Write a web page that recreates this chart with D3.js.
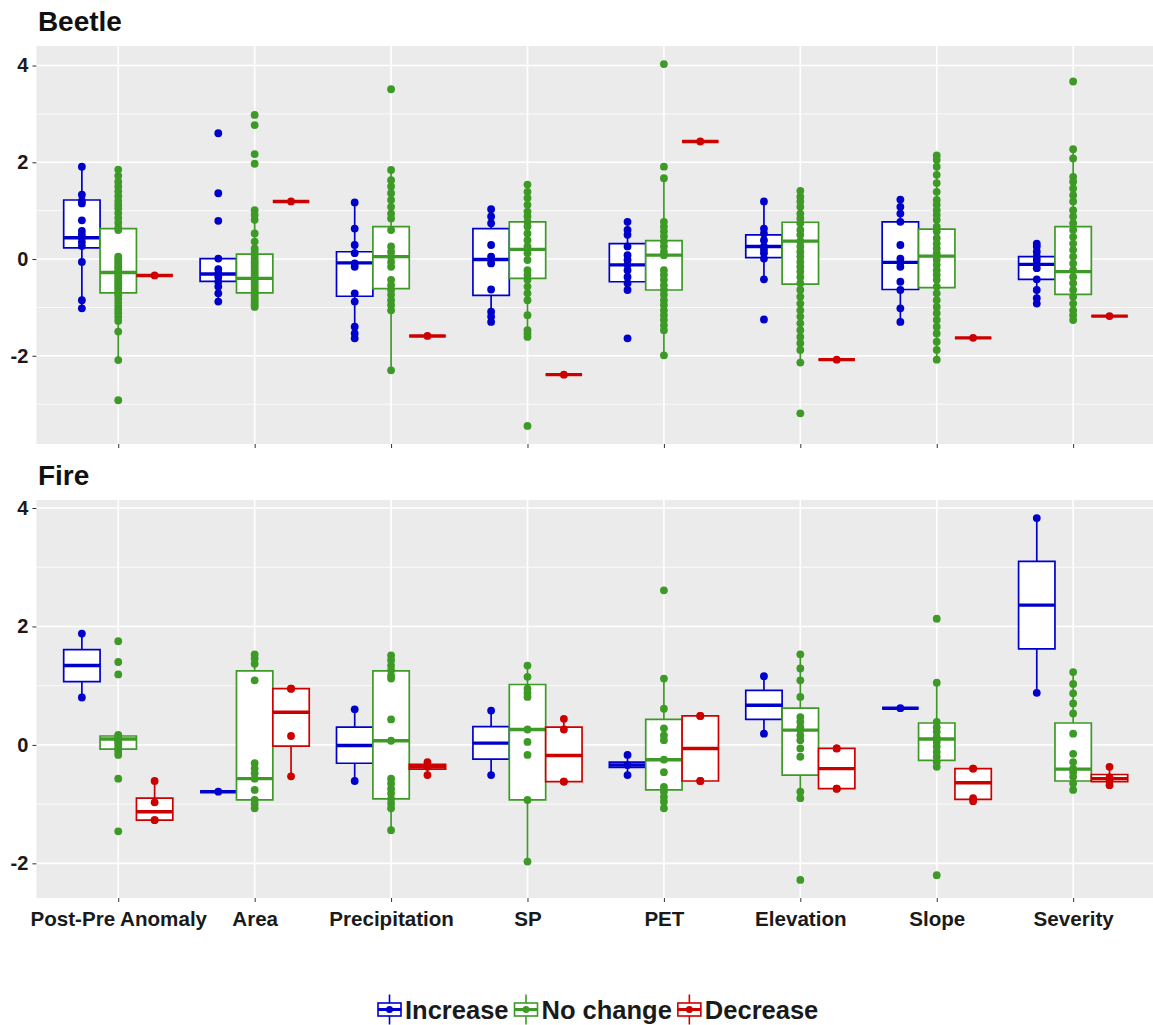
<!DOCTYPE html>
<html>
<head>
<meta charset="utf-8">
<script src="https://cdn.jsdelivr.net/npm/d3@7"></script>
<style>
  body { margin: 0; background: #ffffff; }
  text { font-family: "Liberation Sans", Arial, sans-serif; font-weight: bold; }
</style>
</head>
<body>
<svg id="chart" width="1153" height="1025"></svg>
<script>
// ---- data -------------------------------------------------------------
const categories = ["Post-Pre Anomaly", "Area", "Precipitation", "SP", "PET", "Elevation", "Slope", "Severity"];
const groups = ["Increase", "No change", "Decrease"];
const panelTitles = ["Beetle", "Fire"];

// box summaries per category: [lower whisker, Q1, median, Q3, upper whisker]
const beetleIncreaseBox = [
  [-1.02, 0.23, 0.44, 1.22, 1.91], [-0.88, -0.46, -0.31, 0.01, 0.01], [-1.64, -0.77, -0.08, 0.15, 1.17],
  [-1.30, -0.75, -0.01, 0.63, 1.03], [-0.64, -0.47, -0.12, 0.32, 0.77], [-0.42, 0.03, 0.26, 0.50, 1.19],
  [-1.30, -0.63, -0.07, 0.77, 1.23], [-0.92, -0.42, -0.11, 0.05, 0.32]
];
const beetleIncreasePts = [
  [1.91, 1.33, 1.2, 1.15, 0.8, 0.58, 0.5, 0.44, 0.35, 0.27, -0.06, -0.85, -1.02],
  [2.6, 1.36, 0.79, 0.01, -0.21, -0.3, -0.37, -0.47, -0.57, -0.71, -0.88],
  [1.17, 0.63, 0.29, 0.12, -0.09, -0.16, -0.71, -0.88, -1.4, -1.54, -1.64],
  [1.03, 0.88, 0.74, 0.29, 0.05, -0.02, -0.09, -0.63, -1.09, -1.19, -1.3],
  [0.77, 0.6, 0.5, 0.26, 0.08, -0.02, -0.12, -0.23, -0.37, -0.5, -0.64, -1.64],
  [1.19, 0.63, 0.53, 0.39, 0.26, 0.19, 0.12, 0.01, -0.42, -1.25],
  [1.23, 1.08, 0.94, 0.77, 0.29, 0.01, -0.07, -0.16, -0.47, -0.64, -1.02, -1.3],
  [0.32, 0.26, 0.15, 0.05, -0.02, -0.11, -0.19, -0.42, -0.64, -0.81, -0.92]
];
const beetleNoChangeBox = [
  [-2.09, -0.70, -0.28, 0.63, 1.85], [-0.99, -0.70, -0.40, 0.10, 1.01], [-2.30, -0.61, 0.05, 0.67, 1.84],
  [-1.61, -0.40, 0.20, 0.77, 1.54], [-1.99, -0.64, 0.08, 0.38, 1.67], [-2.14, -0.52, 0.37, 0.76, 1.41],
  [-2.08, -0.59, 0.06, 0.62, 2.14], [-1.26, -0.73, -0.26, 0.67, 2.27]
];
const beetleNoChangePts = [
  [1.85, 1.72, 1.6, 1.5, 1.4, 1.3, 1.2, 1.12, 1.05, 0.95, 0.85, 0.75, 0.65, 0.6, 0.05, 0.0, -0.05, -0.1, -0.15, -0.2, -0.25, -0.3, -0.35, -0.4, -0.45, -0.5, -0.55, -0.6, -0.65, -0.7, -0.75, -0.82, -0.9, -0.98, -1.05, -1.12, -1.2, -1.28, -1.5, -2.09, -2.92],
  [2.98, 2.77, 2.17, 1.97, 1.01, 0.91, 0.81, 0.53, 0.36, 0.22, 0.15, 0.08, 0.01, -0.05, -0.1, -0.15, -0.2, -0.25, -0.3, -0.35, -0.4, -0.45, -0.5, -0.55, -0.6, -0.65, -0.7, -0.75, -0.8, -0.85, -0.9, -0.95, -0.99],
  [3.51, 1.84, 1.63, 1.5, 1.36, 1.22, 1.08, 0.94, 0.84, 0.6, 0.26, 0.15, 0.05, -0.06, -0.16, -0.43, -0.54, -0.64, -0.74, -0.85, -0.95, -1.06, -2.3],
  [1.54, 1.39, 1.26, 1.12, 0.98, 0.88, 0.77, 0.67, 0.53, 0.39, 0.26, 0.2, 0.12, -0.02, -0.23, -0.33, -0.43, -0.57, -0.71, -0.85, -1.16, -1.47, -1.54, -1.61, -3.45],
  [4.03, 1.91, 1.67, 0.77, 0.67, 0.57, 0.47, 0.36, 0.26, 0.15, 0.08, -0.23, -0.33, -0.43, -0.54, -0.64, -0.74, -0.85, -0.95, -1.06, -1.16, -1.26, -1.37, -1.47, -1.99],
  [1.41, 1.29, 1.19, 1.08, 0.94, 0.84, 0.74, 0.6, 0.5, 0.37, 0.26, 0.15, 0.05, -0.06, -0.16, -0.26, -0.37, -0.5, -0.64, -0.78, -0.92, -1.06, -1.19, -1.33, -1.47, -1.61, -1.74, -1.88, -2.14, -3.19],
  [2.14, 2.05, 1.91, 1.74, 1.57, 1.39, 1.22, 1.12, 1.01, 0.91, 0.81, 0.67, 0.57, 0.43, 0.32, 0.22, 0.12, 0.06, -0.02, -0.12, -0.23, -0.33, -0.43, -0.57, -0.71, -0.85, -0.99, -1.12, -1.26, -1.4, -1.54, -1.71, -1.88, -2.08],
  [3.67, 2.27, 2.08, 1.7, 1.6, 1.46, 1.32, 1.19, 1.01, 0.88, 0.74, 0.6, 0.46, 0.32, 0.19, 0.05, -0.09, -0.23, -0.37, -0.5, -0.64, -0.78, -0.92, -1.06, -1.16, -1.26]
];
const beetleDecreaseBox = [
  [-0.34, -0.34, -0.34, -0.34, -0.34], [1.19, 1.19, 1.19, 1.19, 1.19], [-1.59, -1.59, -1.59, -1.59, -1.59],
  [-2.39, -2.39, -2.39, -2.39, -2.39], [2.43, 2.43, 2.43, 2.43, 2.43], [-2.08, -2.08, -2.08, -2.08, -2.08],
  [-1.63, -1.63, -1.63, -1.63, -1.63], [-1.18, -1.18, -1.18, -1.18, -1.18]
];
const beetleDecreasePts = [[-0.34], [1.19], [-1.59], [-2.39], [2.43], [-2.08], [-1.63], [-1.18]];

const fireIncreaseBox = [
  [0.80, 1.07, 1.34, 1.61, 1.88], [-0.79, -0.79, -0.79, -0.79, -0.79], [-0.61, -0.31, -0.01, 0.30, 0.60],
  [-0.51, -0.24, 0.03, 0.31, 0.58], [-0.51, -0.38, -0.34, -0.29, -0.17], [0.19, 0.43, 0.67, 0.92, 1.16],
  [0.62, 0.62, 0.62, 0.62, 0.62], [0.88, 1.62, 2.36, 3.10, 3.83]
];
const fireIncreasePts = [[1.88, 0.80], [-0.79], [0.60, -0.61], [0.58, -0.51], [-0.17, -0.34, -0.51], [1.16, 0.19], [0.62], [3.83, 0.88]];
const fireNoChangeBox = [
  [-0.17, -0.07, 0.10, 0.15, 0.17], [-1.07, -0.93, -0.57, 1.25, 1.53], [-1.44, -0.91, 0.07, 1.25, 1.51],
  [-1.97, -0.93, 0.26, 1.02, 1.34], [-1.07, -0.76, -0.25, 0.43, 1.12], [-0.93, -0.51, 0.25, 0.62, 1.53],
  [-0.37, -0.26, 0.10, 0.37, 1.05], [-0.76, -0.61, -0.41, 0.37, 1.23]
];
const fireNoChangePts = [
  [1.75, 1.4, 1.19, 0.17, 0.15, 0.12, 0.1, 0.08, 0.05, 0.02, -0.03, -0.07, -0.12, -0.17, -0.57, -1.46],
  [1.53, 1.46, 1.37, 1.09, -0.31, -0.4, -0.48, -0.57, -0.76, -0.93, -1.0, -1.07],
  [1.51, 1.43, 1.34, 1.26, 1.17, 1.12, 0.43, 0.07, -0.57, -0.65, -0.74, -0.82, -0.91, -0.99, -1.07, -1.44],
  [1.34, 1.15, 0.95, 0.88, 0.81, 0.26, 0.05, -0.17, -0.93, -1.97],
  [2.61, 1.12, 0.61, 0.28, 0.16, 0.08, -0.25, -0.46, -0.71, -0.79, -0.88, -0.96, -1.07],
  [1.53, 1.29, 1.09, 0.81, 0.47, 0.39, 0.3, 0.25, 0.16, 0.08, -0.06, -0.2, -0.79, -0.9, -2.28],
  [2.13, 1.05, 0.39, 0.3, 0.22, 0.13, 0.05, -0.03, -0.12, -0.2, -0.29, -0.37, -2.2],
  [1.23, 1.03, 0.87, 0.7, 0.53, 0.19, -0.15, -0.29, -0.4, -0.46, -0.54, -0.65, -0.76]
];
const fireDecreaseBox = [
  [-1.27, -1.27, -1.13, -0.90, -0.61], [-0.53, -0.02, 0.55, 0.95, 0.95], [-0.51, -0.41, -0.37, -0.33, -0.29],
  [-0.62, -0.62, -0.18, 0.30, 0.44], [-0.61, -0.61, -0.06, 0.49, 0.49], [-0.74, -0.74, -0.40, -0.06, -0.06],
  [-0.95, -0.92, -0.64, -0.40, -0.40], [-0.68, -0.62, -0.57, -0.50, -0.37]
];
const fireDecreasePts = [
  [-0.61, -0.97, -1.27, -1.27], [0.95, 0.95, 0.15, -0.53], [-0.29, -0.37, -0.51], [0.44, 0.26, -0.62, -0.62],
  [0.49, 0.49, -0.61, -0.61], [-0.06, -0.06, -0.74, -0.74], [-0.4, -0.4, -0.9, -0.95], [-0.37, -0.55, -0.6, -0.68]
];

// ---- layout & style ---------------------------------------------------
const groupColors = ["#0000CD", "#3E9A26", "#CD0000"];
const panelLeft = 36.4, panelRight = 1155;
const panelRows = [{ top: 46, bottom: 444 }, { top: 500, bottom: 898 }];
const pointR = 3.9;

const panels = [
  { title: panelTitles[0], boxes: [beetleIncreaseBox, beetleNoChangeBox, beetleDecreaseBox],
    pts: [beetleIncreasePts, beetleNoChangePts, beetleDecreasePts], showX: false },
  { title: panelTitles[1], boxes: [fireIncreaseBox, fireNoChangeBox, fireDecreaseBox],
    pts: [fireIncreasePts, fireNoChangePts, fireDecreasePts], showX: true }
];

const svg = d3.select("#chart");

const x = d3.scalePoint().domain(categories).range([panelLeft, panelRight]).padding(0.6);
const step = x.step();
const boxW = step * 0.8 / groups.length;
const offset = gi => (gi - (groups.length - 1) / 2) * boxW;

panels.forEach((p, pi) => {
  const row = panelRows[pi];
  const allVals = [];
  p.boxes.forEach(b => b.forEach(s => allVals.push(...s)));
  p.pts.forEach(b => b.forEach(s => allVals.push(...s)));
  const [lo, hi] = d3.extent(allVals);
  const pad = (hi - lo) * 0.05;
  const y = d3.scaleLinear().domain([lo - pad, hi + pad]).range([row.bottom, row.top]);

  const g = svg.append("g");

  // panel background
  g.append("rect")
    .attr("x", panelLeft).attr("y", row.top)
    .attr("width", panelRight - panelLeft).attr("height", row.bottom - row.top)
    .attr("fill", "#EBEBEB");

  // gridlines
  const major = y.ticks(4);
  const tStep = major[1] - major[0];
  const minor = d3.range(major[0] - tStep / 2, major[major.length - 1] + tStep, tStep)
    .filter(v => v >= y.domain()[0] && v <= y.domain()[1]);
  g.selectAll(".minor").data(minor).join("line")
    .attr("x1", panelLeft).attr("x2", panelRight)
    .attr("y1", d => y(d)).attr("y2", d => y(d))
    .attr("stroke", "#ffffff").attr("stroke-width", 0.8);
  g.selectAll(".major").data(major).join("line")
    .attr("x1", panelLeft).attr("x2", panelRight)
    .attr("y1", d => y(d)).attr("y2", d => y(d))
    .attr("stroke", "#ffffff").attr("stroke-width", 1.6);
  g.selectAll(".vgrid").data(categories).join("line")
    .attr("x1", d => x(d)).attr("x2", d => x(d))
    .attr("y1", row.top).attr("y2", row.bottom)
    .attr("stroke", "#ffffff").attr("stroke-width", 1.6);

  // y axis
  const yAxis = d3.axisLeft(y).tickValues(major).tickSize(4).tickPadding(4).tickFormat(d3.format("d"));
  const ya = g.append("g").attr("transform", `translate(${panelLeft},0)`).call(yAxis);
  ya.select(".domain").remove();
  ya.selectAll("line").attr("stroke", "#333333").attr("stroke-width", 1);
  ya.selectAll("text").attr("fill", "#1a1a1a").attr("font-size", 20)
    .style("font-family", "'Liberation Sans', Arial, sans-serif").style("font-weight", "bold")
    .text(d => d < 0 ? "-" + Math.abs(d) : d);

  // x axis
  const xAxis = d3.axisBottom(x).tickSize(4).tickPadding(9);
  const xa = g.append("g").attr("transform", `translate(0,${row.bottom})`).call(xAxis);
  xa.select(".domain").remove();
  xa.selectAll("line").attr("stroke", "#333333").attr("stroke-width", 1);
  xa.selectAll("text").attr("fill", "#1a1a1a").attr("font-size", 20.6)
    .style("font-family", "'Liberation Sans', Arial, sans-serif").style("font-weight", "bold");
  if (!p.showX) xa.selectAll("text").remove();

  // panel title
  svg.append("text")
    .attr("x", panelLeft + 1.5).attr("y", row.top - 15)
    .attr("font-size", 28).attr("fill", "#111111")
    .text(p.title);

  // boxplots
  groups.forEach((grp, gi) => {
    const col = groupColors[gi];
    const gg = g.append("g");
    categories.forEach((cat, ci) => {
      const s = p.boxes[gi][ci];
      const cx = x(cat) + offset(gi);
      const x0 = cx - boxW / 2, x1 = cx + boxW / 2;
      // whiskers
      gg.append("line").attr("x1", cx).attr("x2", cx).attr("y1", y(s[3])).attr("y2", y(s[4]))
        .attr("stroke", col).attr("stroke-width", 1.7);
      gg.append("line").attr("x1", cx).attr("x2", cx).attr("y1", y(s[1])).attr("y2", y(s[0]))
        .attr("stroke", col).attr("stroke-width", 1.7);
      // box (a path so a zero-height box still shows its outline)
      gg.append("path")
        .attr("d", `M${x0},${y(s[3])}H${x1}V${y(s[1])}H${x0}Z`)
        .attr("fill", "#ffffff").attr("stroke", col).attr("stroke-width", 1.7);
      // median
      gg.append("line").attr("x1", x0).attr("x2", x1).attr("y1", y(s[2])).attr("y2", y(s[2]))
        .attr("stroke", col).attr("stroke-width", 3.4);
    });
  });

  // observations
  groups.forEach((grp, gi) => {
    const col = groupColors[gi];
    categories.forEach((cat, ci) => {
      const cx = x(cat) + offset(gi);
      g.append("g").selectAll("circle").data(p.pts[gi][ci]).join("circle")
        .attr("cx", cx).attr("cy", d => y(d)).attr("r", pointR)
        .attr("fill", col);
    });
  });
});

// ---- legend -------------------------------------------------------------
const legend = svg.append("g");
const legendY = 1009.5;
let lx = 376;
groups.forEach((grp, gi) => {
  const col = groupColors[gi];
  const key = legend.append("g").attr("transform", `translate(${lx},${legendY})`);
  key.append("line").attr("x1", 13.5).attr("x2", 13.5).attr("y1", -15).attr("y2", 15)
    .attr("stroke", col).attr("stroke-width", 1.6);
  key.append("rect").attr("x", 2).attr("y", -6.5).attr("width", 23).attr("height", 13)
    .attr("fill", "#ffffff").attr("stroke", col).attr("stroke-width", 1.6);
  key.append("line").attr("x1", 2).attr("x2", 25).attr("y1", 0).attr("y2", 0)
    .attr("stroke", col).attr("stroke-width", 3);
  key.append("circle").attr("cx", 13.5).attr("cy", 0).attr("r", 3.5).attr("fill", col);
  const t = legend.append("text")
    .attr("x", lx + 29).attr("y", legendY + 9)
    .attr("font-size", 25.5).attr("fill", "#1a1a1a")
    .text(grp);
  lx += 29 + t.node().getComputedTextLength() + 4;
});
</script>
</body>
</html>
